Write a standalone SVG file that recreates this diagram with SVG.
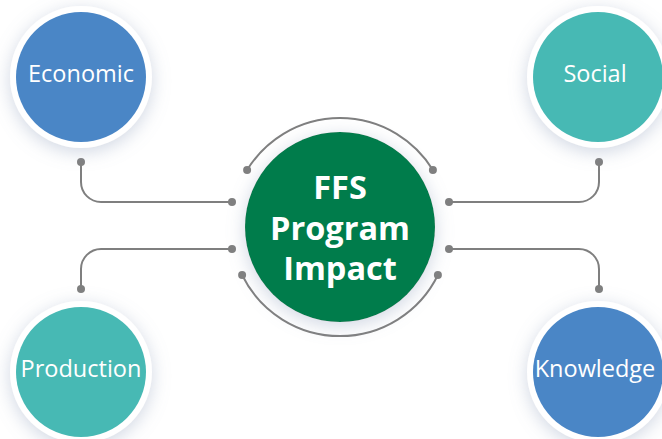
<svg xmlns="http://www.w3.org/2000/svg" width="662" height="439" viewBox="0 0 662 439">
<defs>
<filter id="sh" x="-40%" y="-40%" width="180%" height="180%">
<feDropShadow dx="0" dy="4" stdDeviation="9" flood-color="#8a9ab8" flood-opacity="0.4"/>
</filter>
<style>
.ring{fill:#fff;filter:url(#sh)}
.blue{fill:#4A86C6}
.teal{fill:#47B9B4}
.lbl{font-family:"Open Sans","Noto Sans",sans-serif;font-size:23.5px;fill:#fff;text-anchor:middle}
.ctr{font-family:"Open Sans","Noto Sans",sans-serif;font-size:32.5px;font-weight:bold;fill:#fff;text-anchor:middle}
.con{fill:none;stroke:#7f7f7f;stroke-width:2}
.dot{fill:#7f7f7f}
</style>
</defs>
<rect width="662" height="439" fill="#fff"/>
<g id="connectors">
<path class="con" d="M247.1,170 A109,109 0 0 1 432.9,170"/>
<path class="con" d="M242.1,275 A109,109 0 0 0 437.9,275"/>
<path class="con" d="M81,162 V182 A20,20 0 0 0 101,202 H232"/>
<path class="con" d="M81,289 V269 A20,20 0 0 1 101,249 H232"/>
<path class="con" d="M599,162 V182 A20,20 0 0 1 579,202 H449"/>
<path class="con" d="M599,289 V269 A20,20 0 0 0 579,249 H449"/>
<circle class="dot" cx="247.1" cy="170" r="4"/>
<circle class="dot" cx="432.9" cy="170" r="4"/>
<circle class="dot" cx="242.1" cy="275" r="4"/>
<circle class="dot" cx="437.9" cy="275" r="4"/>
<circle class="dot" cx="81" cy="162" r="4"/>
<circle class="dot" cx="232" cy="202" r="4"/>
<circle class="dot" cx="81" cy="289" r="4"/>
<circle class="dot" cx="232" cy="249" r="4"/>
<circle class="dot" cx="599" cy="162" r="4"/>
<circle class="dot" cx="449" cy="202" r="4"/>
<circle class="dot" cx="599" cy="289" r="4"/>
<circle class="dot" cx="449" cy="249" r="4"/>
</g>
<g id="center">
<circle cx="340" cy="227" r="95" fill="#047B4B" filter="url(#sh)"/>
<text class="ctr" x="340" y="199">FFS</text>
<text class="ctr" x="340" y="240">Program</text>
<text class="ctr" x="340" y="280">Impact</text>
</g>
<g id="economic">
<circle class="ring" cx="81" cy="77" r="71"/>
<circle class="blue" cx="81" cy="77" r="65"/>
<text class="lbl" x="81" y="82">Economic</text>
</g>
<g id="social">
<circle class="ring" cx="598" cy="77" r="71"/>
<circle class="teal" cx="598" cy="77" r="65"/>
<text class="lbl" x="595" y="82">Social</text>
</g>
<g id="production">
<circle class="ring" cx="81" cy="372" r="71"/>
<circle class="teal" cx="81" cy="372" r="65"/>
<text class="lbl" x="81" y="377">Production</text>
</g>
<g id="knowledge">
<circle class="ring" cx="598" cy="372" r="71"/>
<circle class="blue" cx="598" cy="372" r="65"/>
<text class="lbl" x="595" y="377">Knowledge</text>
</g>
</svg>
